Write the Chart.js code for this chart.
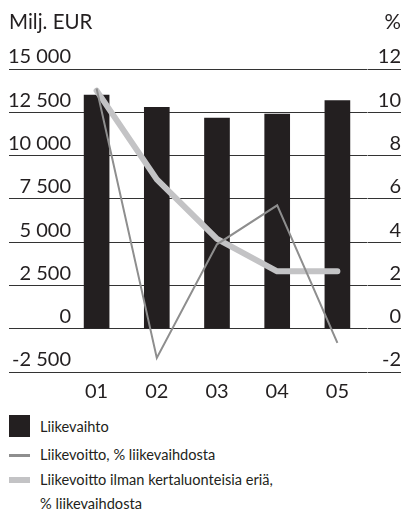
<!DOCTYPE html>
<html>
<head>
<meta charset="utf-8">
<script src="https://cdn.jsdelivr.net/npm/chart.js@4"></script>
<style>
  html, body { margin: 0; padding: 0; background: #fff; }
  body { width: 403px; height: 513px; position: relative; overflow: hidden; font-family: Lato, "Open Sans", sans-serif; color: #231f20; }
  #c { position: absolute; left: 0; top: 0; }
  .unit { position: absolute; top: 7px; font-size: 20.5px; line-height: 28px; }
  .leg { position: absolute; font-size: 14.6px; line-height: 24px; left: 40px; }
  .sw { position: absolute; left: 9px; width: 21px; }
</style>
</head>
<body>
<canvas id="c" width="403" height="410"></canvas>
<div class="unit" style="left:9px;">Milj. EUR</div>
<div class="unit" style="right:2px;">%</div>

<div class="sw" style="top:415px;height:22px;background:#231f20;"></div>
<div class="leg" style="top:415px;">Liikevaihto</div>
<div class="sw" style="top:454px;height:3px;background:#8e8e8e;"></div>
<div class="leg" style="top:443px;">Liikevoitto, % liikevaihdosta</div>
<div class="sw" style="top:477px;height:6px;background:#c3c3c5;"></div>
<div class="leg" style="top:468px;">Liikevoitto ilman kertaluonteisia eriä,<br>% liikevaihdosta</div>

<script>
const categories = ['01', '02', '03', '04', '05'];
const liikevaihto = [13500, 12780, 12170, 12400, 13170];
const liikevoittoPct = [11.1, -1.35, 3.9, 5.7, -0.65];
const liikevoittoIlmanPct = [11.0, 6.9, 4.15, 2.65, 2.65];
const leftTickLabels = ['-2 500', '0', '2 500', '5 000', '7 500', '10 000', '12 500', '15 000'];
const rightTickLabels = ['-2', '0', '2', '4', '6', '8', '10', '12'];

const tickFont = { family: 'Lato', size: 20 };
const gridColor = '#333333';

// measure widest left label so the mirrored labels end at the same right edge
const mctx = document.createElement('canvas').getContext('2d');
mctx.font = '20px Lato';
const widestLeft = Math.max(...leftTickLabels.map(t => mctx.measureText(t).width));
const leftAxisWidth = 57.5;
const leftLabelRight = 71;

new Chart(document.getElementById('c'), {
  data: {
    labels: categories,
    datasets: [
      {
        type: 'line', label: 'Liikevoitto, % liikevaihdosta', data: liikevoittoPct,
        yAxisID: 'y1', borderColor: '#8e8e8e', borderWidth: 2, pointRadius: 0,
        tension: 0, order: 1, borderJoinStyle: 'miter'
      },
      {
        type: 'line', label: 'Liikevoitto ilman kertaluonteisia eriä, % liikevaihdosta', data: liikevoittoIlmanPct,
        yAxisID: 'y1', borderColor: '#c3c3c5', borderWidth: 6, pointRadius: 0,
        tension: 0, order: 2, borderCapStyle: 'round', borderJoinStyle: 'round'
      },
      {
        type: 'bar', label: 'Liikevaihto', data: liikevaihto, yAxisID: 'y',
        backgroundColor: '#231f20', barThickness: 25, order: 3
      }
    ]
  },
  options: {
    responsive: false,
    animation: false,
    devicePixelRatio: 1,
    layout: { padding: { left: 9, right: 2, top: 69, bottom: 8 } },
    plugins: { legend: { display: false }, tooltip: { enabled: false } },
    scales: {
      x: {
        type: 'category',
        offset: true,
        grid: { display: false, drawTicks: false },
        border: { display: false },
        ticks: { font: tickFont, color: '#231f20', padding: 8, maxRotation: 0 },
        afterFit: (s) => { s.height = 30; }
      },
      y: {
        position: 'left',
        min: -2500, max: 15000,
        border: { display: false },
        grid: { color: gridColor, lineWidth: 1, drawTicks: true, tickLength: leftAxisWidth },
        ticks: {
          stepSize: 2500, autoSkip: false, font: tickFont, color: '#231f20',
          mirror: true, crossAlign: 'far',
          padding: (leftLabelRight - (9 + leftAxisWidth)) - widestLeft,
          labelOffset: -12,
          callback: (v, i) => leftTickLabels[i]
        },
        afterFit: (s) => { s.width = leftAxisWidth; }
      },
      y1: {
        position: 'right',
        min: -2, max: 12,
        border: { display: false },
        grid: { color: gridColor, lineWidth: 1, drawOnChartArea: false, drawTicks: true, tickLength: 33.5 },
        ticks: {
          stepSize: 2, autoSkip: false, font: tickFont, color: '#231f20',
          crossAlign: 'far', labelOffset: -12,
          callback: (v, i) => rightTickLabels[i]
        },
        afterFit: (s) => { s.width = 33.5; }
      }
    }
  }
});
</script>
</body>
</html>
